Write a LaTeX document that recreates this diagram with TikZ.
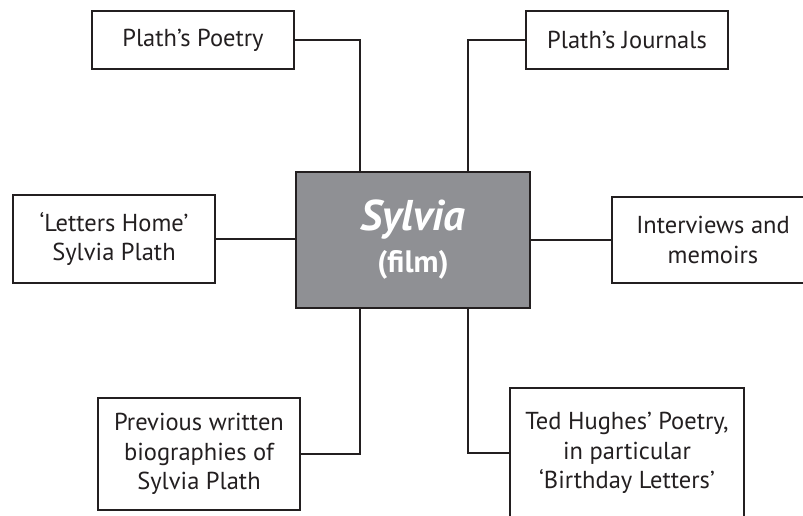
\documentclass[tikz,border=0pt]{standalone}
\usepackage{fontspec}
\setmainfont{PT Sans}
\definecolor{txt}{HTML}{231F20}
\definecolor{hubfill}{HTML}{8F9094}
\tikzset{
  leaf/.style={draw=txt, line width=2.4pt, fill=white, text=txt, align=center,
    inner sep=0pt, font=\fontsize{24.5}{29.5}\selectfont},
  hub/.style={draw=txt, line width=2.6pt, fill=hubfill, inner sep=0pt},
  hubtext/.style={text=white, inner sep=0pt, anchor=base},
  link/.style={draw=txt, line width=2pt}
}
\begin{document}
\begin{tikzpicture}[x=1pt,y=-1pt]
\useasboundingbox (0,0) rectangle (803,515);
\clip (0,0) rectangle (803,515);
\node[hub, minimum width=234pt, minimum height=136pt] (hub) at (413,240) {};
\node[hubtext, font=\bfseries\itshape\fontsize{43}{46}\selectfont] (title) at (413,230) {Sylvia};
\node[hubtext, font=\bfseries\fontsize{31}{34}\selectfont] (sub) at (413,272) {(film)};
\node[leaf, minimum width=202pt, minimum height=58pt] (poetry) at (193,40) {Plath’s Poetry};
\node[leaf, minimum width=202pt, minimum height=58pt] (journals) at (627,40) {Plath’s Journals};
\node[leaf, minimum width=202pt, minimum height=88pt] (letters) at (114,239) {‘Letters Home’\\Sylvia Plath};
\node[leaf, minimum width=202pt, minimum height=86pt] (interviews) at (713,240) {Interviews and\\memoirs};
\node[leaf, minimum width=202pt, minimum height=112pt] (bios) at (199,454) {Previous written\\biographies of\\Sylvia Plath};
\node[leaf, minimum width=234pt, minimum height=130pt] (hughes) at (627,453) {Ted Hughes’ Poetry,\\in particular\\‘Birthday Letters’};
\draw[link] (poetry.east) -| ([xshift=-53pt]hub.north);
\draw[link] (journals.west) -| ([xshift=55pt]hub.north);
\draw[link] (letters.east) -- (letters.east -| hub.west);
\draw[link] (interviews.west) -- (interviews.west -| hub.east);
\draw[link] (bios.east) -| ([xshift=-53pt]hub.south);
\draw[link] (hughes.west) -| ([xshift=55pt]hub.south);
\end{tikzpicture}
\end{document}
